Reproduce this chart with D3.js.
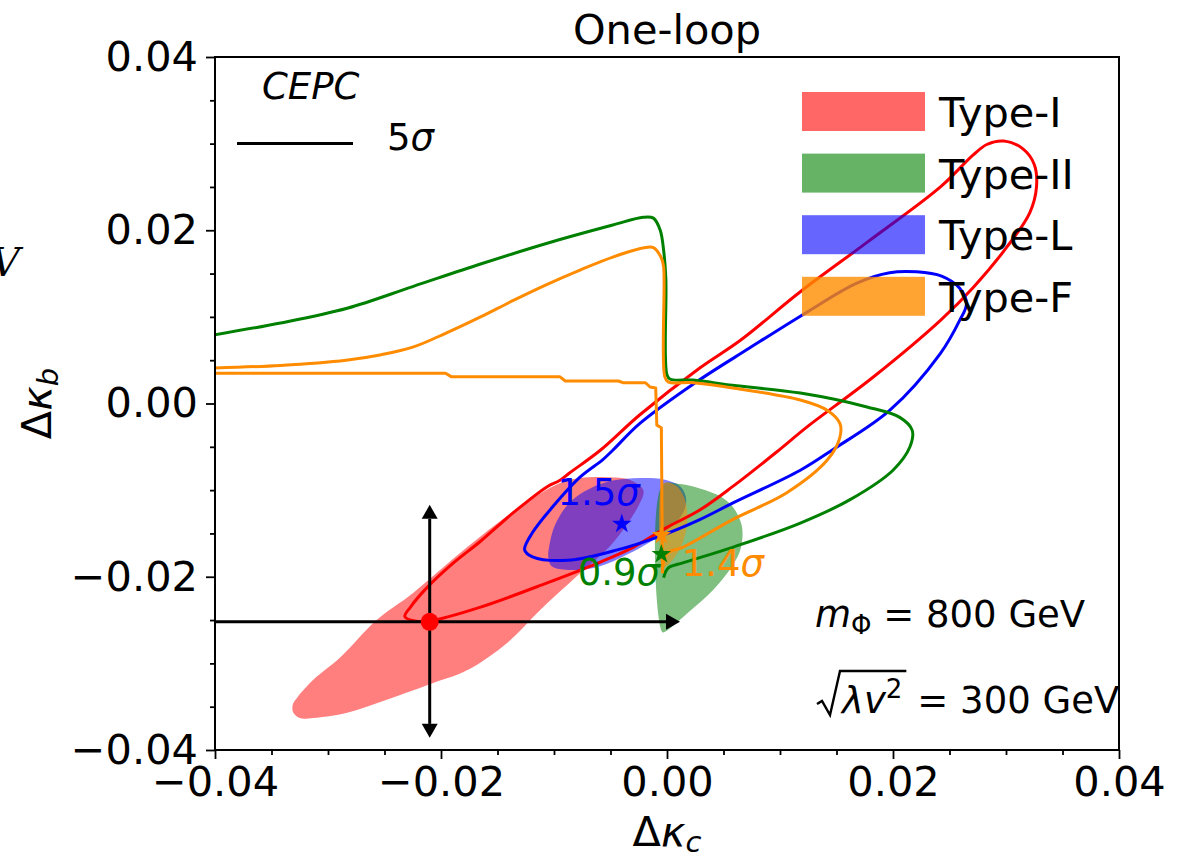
<!DOCTYPE html>
<html>
<head>
<meta charset="utf-8">
<script src="https://cdn.jsdelivr.net/npm/d3@7"></script>
<style>
  body { margin: 0; background: #fff; }
  text { font-family: 'DejaVu Sans', sans-serif; fill: #000; }
  .axis text { font-size: 41.5px; }
  .axis line { stroke: #000; stroke-width: 1.8; }
</style>
</head>
<body>
<svg id="chart"></svg>
<script>
// ---- values: [Δκ_c, Δκ_b] ----
const majorTicks = [-0.04, -0.02, 0.00, 0.02, 0.04];
const minorTicks = [-0.035, -0.03, -0.025, -0.015, -0.01, -0.005, 0.005, 0.01, 0.015, 0.025, 0.03, 0.035];

const typeNames = ['Type-I', 'Type-II', 'Type-L', 'Type-F'];
const typeColors = ['#ff0000', '#008000', '#0000ff', '#ff8c00'];

// one-loop allowed regions (filled)
const typeIRegion = [
  [-0.0325, -0.0363], [-0.0331, -0.0356], [-0.0331, -0.0347], [-0.0327, -0.0339],
  [-0.0313, -0.0319], [-0.0289, -0.0293], [-0.0257, -0.0250], [-0.0225, -0.0219],
  [-0.0177, -0.0166], [-0.0130, -0.0119], [-0.0095, -0.0092], [-0.0077, -0.0086],
  [-0.0053, -0.0085], [-0.0033, -0.0088], [-0.0021, -0.0100], [-0.0024, -0.0115],
  [-0.0048, -0.0161], [-0.0077, -0.0196], [-0.0112, -0.0238], [-0.0142, -0.0277],
  [-0.0177, -0.0308], [-0.0210, -0.0324], [-0.0248, -0.0342], [-0.0283, -0.0357],
  [-0.0313, -0.0363]
];
const typeIIRegion = [
  [-0.0004, -0.0094], [0.0012, -0.0093], [0.0029, -0.0098], [0.0047, -0.0107],
  [0.0058, -0.0119], [0.0066, -0.0140], [0.0066, -0.0163], [0.0060, -0.0183],
  [0.0041, -0.0215], [0.0018, -0.0242], [0.0000, -0.0262], [-0.0004, -0.0264]
];
const typeLRegion = [
  [-0.0105, -0.0178], [-0.0102, -0.0188], [-0.0090, -0.0192], [-0.0062, -0.0189],
  [-0.0033, -0.0173], [-0.0004, -0.0150], [0.0013, -0.0129], [0.0017, -0.0111],
  [0.0012, -0.0096], [-0.0002, -0.0088], [-0.0024, -0.0086], [-0.0048, -0.0089],
  [-0.0068, -0.0098], [-0.0086, -0.0114], [-0.0099, -0.0140], [-0.0104, -0.0163]
];
const typeFRegion = [
  [-0.0003, -0.0092], [0.0008, -0.0095], [0.0015, -0.0108], [0.0018, -0.0129],
  [0.0016, -0.0152], [0.0010, -0.0171], [0.0001, -0.0186], [-0.0003, -0.0189]
];

// CEPC 5 sigma contours
const typeIContour = [
  [-0.0232, -0.0246], [-0.0223, -0.0251], [-0.0210, -0.0251], [-0.0165, -0.0235],
  [-0.0106, -0.0207], [-0.0059, -0.0183], [-0.0030, -0.0166], [0.0000, -0.0143],
  [0.0029, -0.0123], [0.0058, -0.0096], [0.0097, -0.0056], [0.0124, -0.0027],
  [0.0182, 0.0030], [0.0242, 0.0096], [0.0271, 0.0134], [0.0301, 0.0181],
  [0.0321, 0.0220], [0.0327, 0.0250], [0.0325, 0.0276], [0.0315, 0.0294],
  [0.0298, 0.0303], [0.0283, 0.0299], [0.0271, 0.0287], [0.0242, 0.0250],
  [0.0177, 0.0186], [0.0118, 0.0129], [0.0065, 0.0073], [0.0029, 0.0041],
  [-0.0024, -0.0013], [-0.0059, -0.0054], [-0.0086, -0.0080], [-0.0095, -0.0089],
  [-0.0106, -0.0096], [-0.0136, -0.0126], [-0.0165, -0.0159], [-0.0189, -0.0184],
  [-0.0212, -0.0212], [-0.0227, -0.0235]
];
const typeLContour = [
  [-0.0126, -0.0169], [-0.0119, -0.0177], [-0.0088, -0.0181], [-0.0044, -0.0169],
  [-0.0006, -0.0153], [0.0029, -0.0134], [0.0058, -0.0115], [0.0118, -0.0077],
  [0.0147, -0.0053], [0.0197, -0.0008], [0.0242, 0.0058], [0.0259, 0.0096],
  [0.0265, 0.0115], [0.0259, 0.0133], [0.0243, 0.0147], [0.0221, 0.0152],
  [0.0197, 0.0151], [0.0168, 0.0139], [0.0122, 0.0104],
  [0.0073, 0.0064], [0.0025, 0.0024], [-0.0024, -0.0023], [-0.0048, -0.0054],
  [-0.0057, -0.0065], [-0.0077, -0.0085], [-0.0101, -0.0119], [-0.0119, -0.0149]
];
const typeIIContour = [
  [-0.0402, 0.0079], [-0.0342, 0.0093], [-0.0283, 0.0110], [-0.0225, 0.0135],
  [-0.0165, 0.0161], [-0.0106, 0.0185], [-0.0048, 0.0206], [-0.0021, 0.0215],
  [-0.0012, 0.0214], [-0.0006, 0.0200], [-0.0003, 0.0177], [-0.0001, 0.0143],
  [0.0000, 0.0033], [0.0003, 0.0028], [0.0023, 0.0027], [0.0058, 0.0021],
  [0.0118, 0.0012], [0.0177, -0.0004], [0.0206, -0.0016], [0.0217, -0.0031],
  [0.0215, -0.0050], [0.0200, -0.0077], [0.0162, -0.0111], [0.0118, -0.0138],
  [0.0058, -0.0166], [0.0014, -0.0184], [0.0001, -0.0190], [-0.0003, -0.0201]
];
const typeFContour = [
  [-0.0402, 0.0041], [-0.0342, 0.0044], [-0.0284, 0.0050], [-0.0254, 0.0056],
  [-0.0225, 0.0065], [-0.0196, 0.0081], [-0.0165, 0.0100], [-0.0136, 0.0119],
  [-0.0107, 0.0137], [-0.0077, 0.0154], [-0.0048, 0.0169], [-0.0019, 0.0180],
  [-0.0012, 0.0180], [-0.0005, 0.0168], [-0.0003, 0.0158], [-0.0002, 0.0031],
  [0.0001, 0.0025], [0.0023, 0.0024], [0.0058, 0.0018], [0.0118, 0.0004],
  [0.0142, -0.0008], [0.0153, -0.0023], [0.0153, -0.0039], [0.0142, -0.0065],
  [0.0106, -0.0103], [0.0058, -0.0134], [0.0014, -0.0166], [0.0000, -0.0173],
  [-0.0004, -0.0192]
];
const typeFStepped = [
  [-0.0402, 0.0035], [-0.0196, 0.0035], [-0.0191, 0.0031], [-0.0095, 0.0031],
  [-0.0090, 0.0026], [-0.0043, 0.0026], [-0.0039, 0.0024], [-0.0019, 0.0024],
  [-0.0015, 0.0019], [-0.0010, 0.0018], [-0.0009, -0.0025], [-0.0005, -0.0028],
  [-0.0004, -0.0196]
];

// best-fit points and their significance labels
const bestFits = [
  { type: 'Type-L', point: [-0.0040, -0.0139], label: '1.5', labelAt: [-0.0097, -0.0117] },
  { type: 'Type-II', point: [-0.0005, -0.0174], label: '0.9', labelAt: [-0.0079, -0.0210] },
  { type: 'Type-F', point: [-0.0005, -0.0152], label: '1.4', labelAt: [0.0013, -0.0199] }
];

// SM-like benchmark point with arrows
const benchmark = [-0.0210, -0.0252];
const arrowXEnd = 0.00115;
const arrowYEnds = [-0.0117, -0.0386];

// ---- layout ----
const W = 1187, H = 858;
const margin = { top: 57, right: 68, bottom: 108, left: 215 };
const innerW = W - margin.left - margin.right;
const innerH = H - margin.top - margin.bottom;

const x = d3.scaleLinear().domain([-0.04, 0.04]).range([0, innerW]);
const y = d3.scaleLinear().domain([-0.04, 0.04]).range([innerH, 0]);
const color = d3.scaleOrdinal().domain(typeNames).range(typeColors);

const svg = d3.select('#chart').attr('width', W).attr('height', H);
svg.append('defs').append('clipPath').attr('id', 'plot-clip')
  .append('rect').attr('width', innerW).attr('height', innerH);

const chart = svg.append('g').attr('transform', `translate(${margin.left},${margin.top})`);
const plot = chart.append('g').attr('clip-path', 'url(#plot-clip)');

const closedCurve = d3.line().x(d => x(d[0])).y(d => y(d[1]))
  .curve(d3.curveCatmullRomClosed.alpha(0.5));
const openCurve = d3.line().x(d => x(d[0])).y(d => y(d[1]))
  .curve(d3.curveCatmullRom.alpha(0.5));
const stepLine = d3.line().x(d => x(d[0])).y(d => y(d[1]));

// filled regions
const regions = [
  { type: 'Type-I', pts: typeIRegion },
  { type: 'Type-L', pts: typeLRegion },
  { type: 'Type-II', pts: typeIIRegion },
  { type: 'Type-F', pts: typeFRegion }
];
plot.selectAll('.region')
  .data(regions)
  .join('path')
  .attr('class', 'region')
  .attr('d', d => closedCurve(d.pts))
  .attr('fill', d => color(d.type))
  .attr('fill-opacity', 0.5);

// contour lines
const contours = [
  { type: 'Type-I', d: closedCurve(typeIContour) },
  { type: 'Type-L', d: closedCurve(typeLContour) },
  { type: 'Type-II', d: openCurve(typeIIContour) },
  { type: 'Type-F', d: openCurve(typeFContour) },
  { type: 'Type-F', d: stepLine(typeFStepped) }
];
plot.selectAll('.contour')
  .data(contours)
  .join('path')
  .attr('class', 'contour')
  .attr('d', d => d.d)
  .attr('fill', 'none')
  .attr('stroke', d => color(d.type))
  .attr('stroke-width', 3)
  .attr('stroke-linejoin', 'round');

// arrows from the benchmark point
const head = 14, halfW = 8;
const bx = x(benchmark[0]), by = y(benchmark[1]);
const arrows = plot.append('g').attr('fill', '#000').attr('stroke', '#000');
const hx = x(arrowXEnd);
arrows.append('line').attr('x1', x(-0.045)).attr('x2', hx - head).attr('y1', by).attr('y2', by)
  .attr('stroke-width', 3);
arrows.append('path').attr('stroke', 'none')
  .attr('d', `M${hx},${by}L${hx - head},${by - halfW}L${hx - head},${by + halfW}Z`);
const yTop = y(arrowYEnds[0]), yBot = y(arrowYEnds[1]);
arrows.append('line').attr('x1', bx).attr('x2', bx).attr('y1', yTop + head).attr('y2', yBot - head)
  .attr('stroke-width', 3);
arrows.append('path').attr('stroke', 'none')
  .attr('d', `M${bx},${yTop}L${bx - halfW},${yTop + head}L${bx + halfW},${yTop + head}Z`);
arrows.append('path').attr('stroke', 'none')
  .attr('d', `M${bx},${yBot}L${bx - halfW},${yBot - head}L${bx + halfW},${yBot - head}Z`);

plot.append('circle').attr('cx', bx).attr('cy', by).attr('r', 9).attr('fill', '#ff0000');

// best-fit stars and labels
plot.selectAll('.star')
  .data(bestFits)
  .join('path')
  .attr('class', 'star')
  .attr('transform', d => `translate(${x(d.point[0])},${y(d.point[1])})`)
  .attr('d', d3.symbol().type(d3.symbolStar).size(120)())
  .attr('fill', d => color(d.type));

const sigLabels = chart.selectAll('.sig')
  .data(bestFits)
  .join('text')
  .attr('class', 'sig')
  .attr('x', d => x(d.labelAt[0]))
  .attr('y', d => y(d.labelAt[1]))
  .attr('font-size', 37)
  .style('fill', d => color(d.type));
sigLabels.append('tspan').text(d => d.label);
sigLabels.append('tspan').attr('font-style', 'italic').text('σ');

// frame and ticks
const xMajor = d3.axisBottom(x).tickValues(majorTicks).tickFormat(d3.format('.2f'))
  .tickSize(9).tickPadding(8).tickSizeOuter(0);
const xMinor = d3.axisBottom(x).tickValues(minorTicks).tickFormat('').tickSize(5).tickSizeOuter(0);
const yMajor = d3.axisLeft(y).tickValues(majorTicks).tickFormat(d3.format('.2f'))
  .tickSize(9).tickPadding(8).tickSizeOuter(0);
const yMinor = d3.axisLeft(y).tickValues(minorTicks).tickFormat('').tickSize(5).tickSizeOuter(0);

[xMajor, xMinor].forEach(a => chart.append('g').attr('class', 'axis')
  .attr('transform', `translate(0,${innerH})`).call(a).call(g => g.select('.domain').remove()));
[yMajor, yMinor].forEach(a => chart.append('g').attr('class', 'axis')
  .call(a).call(g => g.select('.domain').remove()));
chart.selectAll('.axis text').attr('fill', null).style('font-family', "'DejaVu Sans', sans-serif");

// legend (drawn over the lines, no frame)
const legend = chart.append('g').attr('transform', 'translate(587,35)');
const rows = legend.selectAll('.row')
  .data(typeNames)
  .join('g')
  .attr('class', 'row')
  .attr('transform', (d, i) => `translate(0,${i * 61.6})`);
rows.append('rect')
  .attr('width', 123).attr('height', 39)
  .attr('fill', d => color(d))
  .attr('fill-opacity', d => d === 'Type-F' ? 0.8 : 0.6);
rows.append('text')
  .attr('x', 137).attr('y', 35)
  .attr('font-size', 41.5)
  .text(d => d);

chart.append('rect').attr('width', innerW).attr('height', innerH)
  .attr('fill', 'none').attr('stroke', '#000').attr('stroke-width', 2);

// CEPC line key
chart.append('text').attr('x', 47).attr('y', 42).attr('font-size', 37)
  .attr('font-style', 'italic').text('CEPC');
chart.append('line').attr('x1', 22).attr('x2', 138).attr('y1', 86.5).attr('y2', 86.5)
  .attr('stroke', '#000').attr('stroke-width', 3);
const fiveSig = chart.append('text').attr('x', 172).attr('y', 93).attr('font-size', 37);
fiveSig.append('tspan').text('5');
fiveSig.append('tspan').attr('font-style', 'italic').text('σ');

// parameter notes
const mText = chart.append('text').attr('x', 600).attr('y', 570).attr('font-size', 37);
mText.append('tspan').attr('font-style', 'italic').text('m');
mText.append('tspan').attr('font-size', 26).attr('dy', 7).text('Φ');
mText.append('tspan').attr('dy', -7).text(' = 800 GeV');

const sqX = 602, sqY = 656;
const inner = chart.append('text').attr('x', sqX + 25).attr('y', sqY).attr('font-size', 37);
inner.append('tspan').attr('font-style', 'italic').text('λv');
inner.append('tspan').attr('font-size', 26).attr('dy', -15).text('2');
const innerLen = inner.node().getComputedTextLength();
chart.append('path')
  .attr('d', `M${sqX},${sqY - 9}L${sqX + 5},${sqY - 12}L${sqX + 13},${sqY + 2}L${sqX + 23},${sqY - 42}L${sqX + 29 + innerLen},${sqY - 42}`)
  .attr('fill', 'none').attr('stroke', '#000').attr('stroke-width', 2.4).attr('stroke-linejoin', 'miter');
chart.append('text').attr('x', sqX + 40 + innerLen).attr('y', sqY).attr('font-size', 37)
  .text('= 300 GeV');

// title and axis labels
svg.append('text').attr('x', margin.left + innerW / 2).attr('y', 44)
  .attr('text-anchor', 'middle').attr('font-size', 41.5).text('One-loop');

const xLab = svg.append('text').attr('x', margin.left + innerW / 2).attr('y', 846)
  .attr('text-anchor', 'middle').attr('font-size', 41.5);
xLab.append('tspan').text('Δ');
xLab.append('tspan').attr('font-style', 'italic').text('κ');
xLab.append('tspan').attr('font-style', 'italic').attr('font-size', 29).attr('dy', 6).text('c');

const yLab = svg.append('text')
  .attr('transform', `translate(51,${margin.top + innerH / 2}) rotate(-90)`)
  .attr('text-anchor', 'middle').attr('font-size', 41.5);
yLab.append('tspan').text('Δ');
yLab.append('tspan').attr('font-style', 'italic').text('κ');
yLab.append('tspan').attr('font-style', 'italic').attr('font-size', 29).attr('dy', 7).text('b');

// clipped remnant of a neighbouring label at the left edge
svg.append('text').attr('x', -9).attr('y', 276).attr('font-size', 40)
  .style('font-family', "'DejaVu Serif', serif").attr('font-style', 'italic').text('V');
</script>
</body>
</html>
